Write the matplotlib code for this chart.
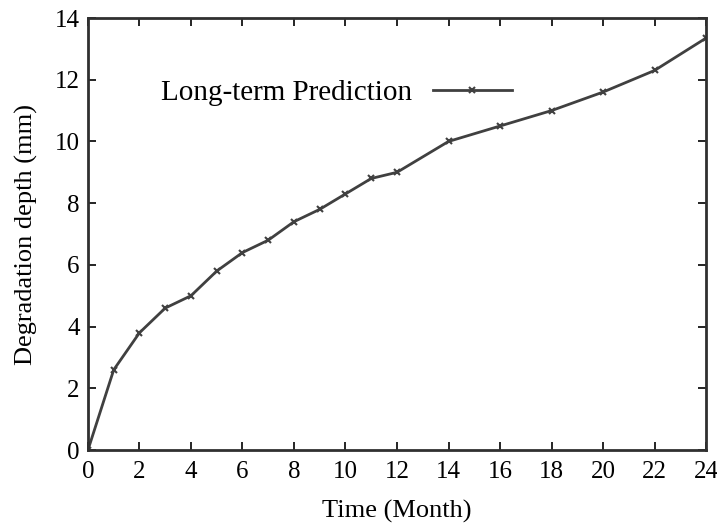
import matplotlib.pyplot as plt

plt.rcParams['font.family'] = ['Liberation Serif', 'DejaVu Serif']

# Data
months = [0, 1, 2, 3, 4, 5, 6, 7, 8, 9, 10, 11, 12, 14, 16, 18, 20, 22, 24]
depth = [0.0, 2.6, 3.8, 4.6, 5.0, 5.8, 6.4, 6.8, 7.4, 7.8, 8.3, 8.8, 9.0,
         10.0, 10.5, 11.0, 11.6, 12.3, 13.35]
xticks = list(range(0, 25, 2))
yticks = list(range(0, 15, 2))

fig = plt.figure(figsize=(7.17, 5.24), dpi=100)
ax = fig.add_axes([0.1227, 0.1412, 0.862, 0.8244])

ax.plot(months, depth, color="#404040", linewidth=2, marker="x",
        markersize=5, markeredgewidth=1.5, label="Long-term Prediction")

ax.set_xlim(0, 24)
ax.set_ylim(0, 14)
ax.set_xticks(xticks)
ax.set_yticks(yticks)
ax.tick_params(direction="in", top=True, right=True, length=6, width=1.2,
               labelsize=18)
ax.tick_params(axis="x", pad=8)
ax.tick_params(axis="y", pad=6)
for s in ax.spines.values():
    s.set_linewidth(2)
    s.set_color("#303030")

ax.set_xlabel("Time (Month)", fontsize=19, labelpad=12)
ax.set_ylabel("Degradation depth (mm)", fontsize=19, labelpad=12)

ax.legend(loc="upper left", bbox_to_anchor=(0.1, 0.885), frameon=False,
          markerfirst=False, fontsize=21, handlelength=2.7,
          handletextpad=0.7, borderaxespad=0)

plt.savefig("out.png", dpi=100)
